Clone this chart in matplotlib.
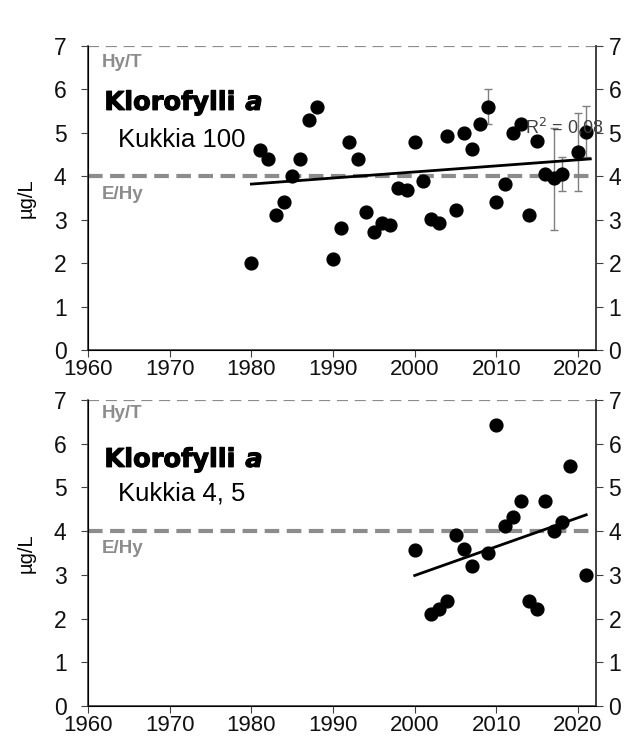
import numpy as np
import matplotlib
matplotlib.use("Agg")
import matplotlib.pyplot as plt
import matplotlib.patheffects as pe

plt.rcParams["font.family"] = ["Liberation Sans", "DejaVu Sans"]

# Kukkia 100
years_100 = [1980, 1981, 1982, 1983, 1984, 1985, 1986, 1987, 1988, 1990,
             1991, 1992, 1993, 1994, 1995, 1996, 1997, 1998, 1999, 2000,
             2001, 2002, 2003, 2004, 2005, 2006, 2007, 2008, 2009, 2010,
             2011, 2012, 2013, 2014, 2015, 2016, 2017, 2018, 2020, 2021]
chl_100 = [2.0, 4.6, 4.4, 3.1, 3.4, 4.0, 4.4, 5.3, 5.6, 2.1,
           2.8, 4.8, 4.4, 3.18, 2.72, 2.92, 2.87, 3.72, 3.68, 4.78,
           3.9, 3.02, 2.92, 4.92, 3.22, 5.0, 4.62, 5.21, 5.6, 3.4,
           3.82, 5.0, 5.21, 3.1, 4.82, 4.05, 3.95, 4.05, 4.56, 5.02]
# trend line as drawn in the original (Excel linear trend)
trend_years_100 = [1980, 2021.5]
trend_100 = [3.82, 4.40]

# error bars (low, high) for some years
err_years = [2009, 2017, 2018, 2020, 2021]
err_mid = [5.6, 3.95, 4.05, 4.56, 5.02]
err_low = [5.2, 2.76, 3.66, 3.66, 4.45]
err_high = [6.02, 5.12, 4.45, 5.46, 5.62]

# Kukkia 4, 5
years_45 = [2000, 2002, 2003, 2004, 2005, 2006, 2007, 2009, 2010, 2011,
            2012, 2013, 2014, 2015, 2016, 2017, 2018, 2019, 2021]
chl_45 = [3.57, 2.1, 2.21, 2.41, 3.9, 3.6, 3.2, 3.5, 6.42, 4.12,
          4.32, 4.7, 2.41, 2.21, 4.7, 4.0, 4.2, 5.5, 3.0]

xticks = [1960, 1970, 1980, 1990, 2000, 2010, 2020]
grey = "#8c8c8c"
spine = "#404040"
tick_font = ["Liberation Sans Narrow", "Liberation Sans", "DejaVu Sans"]
heavy = [pe.withStroke(linewidth=0.8, foreground="black")]

fig = plt.figure(figsize=(6.27, 7.44), dpi=100)
ax1 = fig.add_axes([0.1404, 0.5296, 0.8102, 0.4086])
ax2 = fig.add_axes([0.1404, 0.0511, 0.8102, 0.4113])


def setup(ax, subtitle, y_hyt, y_ehy, y_title, y_sub):
    ax.set_xlim(1960, 2022.2)
    ax.set_ylim(0, 7)
    ax.set_xticks(xticks)
    ax.set_yticks(range(8))
    ax.spines["top"].set_visible(False)
    for s in ["left", "right", "bottom"]:
        ax.spines[s].set_color(spine)
        ax.spines[s].set_linewidth(1.2)
    ax.tick_params(axis="both", direction="out", length=5, color=spine,
                   labelcolor="#111111", labelsize=16.5)
    ax.tick_params(axis="x", pad=1.5, labelsize=16)
    ax.tick_params(axis="y", pad=10.5)
    for lab in ax.get_xticklabels() + ax.get_yticklabels():
        lab.set_family(tick_font)

    # right-hand axis with the same scale
    axr = ax.twinx()
    axr.set_ylim(0, 7)
    axr.set_yticks(range(8))
    axr.spines["top"].set_visible(False)
    axr.spines["right"].set_color(spine)
    axr.spines["right"].set_linewidth(1.2)
    axr.tick_params(axis="y", direction="out", length=5, color=spine,
                    labelcolor="#111111", labelsize=16.5, pad=4)
    for lab in axr.get_yticklabels():
        lab.set_family(tick_font)

    ax.set_ylabel("µg/L", fontsize=14.5, labelpad=13)
    ax.axhline(7, color=grey, lw=1.6, dashes=(5, 3), zorder=1)
    ax.axhline(4, color=grey, lw=3, dashes=(3.5, 1.8), zorder=1)
    ax.text(1961.7, y_hyt, "Hy/T", color=grey, fontsize=13.5, fontweight="bold", va="center")
    ax.text(1961.7, y_ehy, "E/Hy", color=grey, fontsize=13.5, fontweight="bold", va="center")
    title = ax.text(1962.0, y_title, "Klorofylli", fontsize=18.5, fontweight="heavy",
                    family=["DejaVu Sans"], va="center", path_effects=heavy)
    fig.canvas.draw()
    bb = title.get_window_extent().transformed(ax.transData.inverted())
    ax.text(bb.x1 + 1.2, y_title, "a", fontsize=18.5, fontweight="heavy", style="italic",
            family=["DejaVu Sans"], va="center", path_effects=heavy)
    ax.text(1963.7, y_sub, subtitle, fontsize=18.5, va="center")


setup(ax1, "Kukkia 100", 6.63, 3.57, 5.69, 4.84)
setup(ax2, "Kukkia 4, 5", 6.70, 3.61, 5.63, 4.87)

# top panel
ax1.errorbar(err_years, err_mid,
             yerr=[np.subtract(err_mid, err_low), np.subtract(err_high, err_mid)],
             fmt="none", ecolor="#7f7f7f", elinewidth=1, capsize=3, zorder=2)
ax1.scatter(years_100, chl_100, s=85, color="black", zorder=3)
ax1.plot(trend_years_100, trend_100, color="black", lw=2, zorder=4)
ax1.text(2013.5, 5.13, "R$^2$ = 0,08", fontsize=13, family=tick_font,
         color="#404040", va="center", zorder=5)

# bottom panel
ax2.scatter(years_45, chl_45, s=85, color="black", zorder=3)
k2, b2 = np.polyfit(years_45, chl_45, 1)
xs2 = np.array([min(years_45), max(years_45)])
ax2.plot(xs2, k2 * xs2 + b2, color="black", lw=2, zorder=4)

fig.savefig("out.png", dpi=100)
